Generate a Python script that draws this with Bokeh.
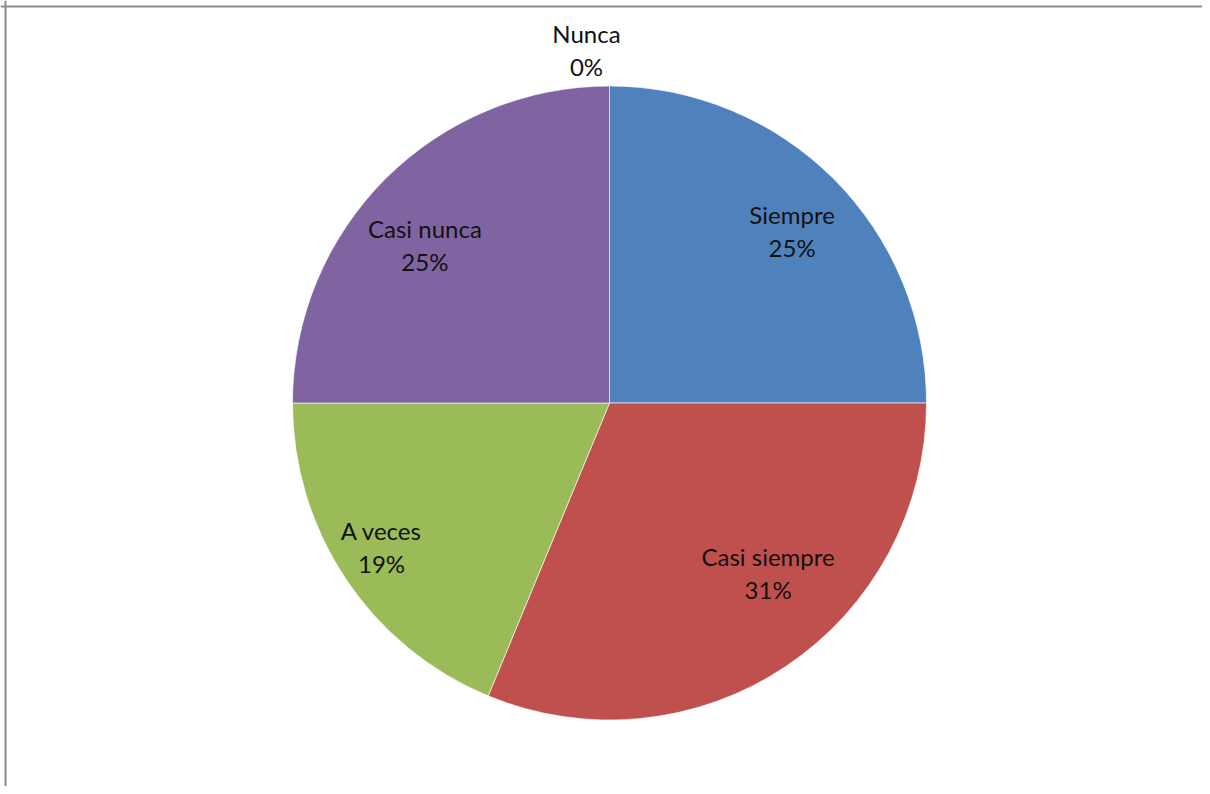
import math
from bokeh.plotting import figure
from bokeh.models import Range1d, Span, ColumnDataSource
from bokeh.core.properties import value
from bokeh.embed import file_html
from bokeh.resources import INLINE

categories = ["Siempre", "Casi siempre", "A veces", "Casi nunca", "Nunca"]
counts = [4, 5, 3, 4, 0]
colors = ["#4F81BD", "#C0504D", "#9BBB59", "#8064A2", "#F79646"]

# label placement nudges in screen pixels (style only)
label_nudge_x = [10, 23, -25, -12, -23]
label_nudge_y = [-1, 33, -8, -15, 4]

W, H = 1202, 786
p = figure(width=W, height=H, output_backend="svg", toolbar_location=None,
           x_range=Range1d(0, W), y_range=Range1d(0, H), min_border=0)
p.axis.visible = False
p.grid.visible = False
p.outline_line_color = None
p.background_fill_color = "white"
p.border_fill_color = "white"

# frame lines (left and top only, as in reference)
p.add_layout(Span(location=5, dimension="height", line_color="#8c8c8c", line_width=2))
p.add_layout(Span(location=H - 6, dimension="width", line_color="#8c8c8c", line_width=2))

cx, cy, R = 609, H - 402.5, 317
total = sum(counts)
starts, ends, mids, pcts = [], [], [], []
acc = 0
for c in counts:
    s = math.pi / 2 - 2 * math.pi * acc / total
    acc += c
    e = math.pi / 2 - 2 * math.pi * acc / total
    starts.append(s); ends.append(e); mids.append((s + e) / 2)
    pcts.append(f"{round(100 * c / total)}%")

idx = [i for i, c in enumerate(counts) if c > 0]
src = ColumnDataSource(dict(
    x=[cx] * len(idx), y=[cy] * len(idx),
    s=[starts[i] for i in idx], e=[ends[i] for i in idx],
    col=[colors[i] for i in idx]))
p.wedge(x="x", y="y", radius=R, radius_units="screen", start_angle="s", end_angle="e",
        direction="clock", fill_color="col", line_color="white", line_alpha=0.6,
        line_width=1, source=src)

lx, ly = [], []
for i, c in enumerate(counts):
    r = 0.77 * R if c > 0 else 1.1 * R
    lx.append(cx + r * math.cos(mids[i]) + label_nudge_x[i])
    ly.append(cy + r * math.sin(mids[i]) + label_nudge_y[i])
lsrc = ColumnDataSource(dict(x=lx, y=ly, name=categories, pct=pcts))
font = value("Lato")
p.text(x="x", y="y", text="name", source=lsrc, text_align="center",
       text_baseline="middle", y_offset=-16.5, text_font=font,
       text_font_size="24px", text_color="#111111")
p.text(x="x", y="y", text="pct", source=lsrc, text_align="center",
       text_baseline="middle", y_offset=16.5, text_font=font,
       text_font_size="24px", text_color="#111111")

open("out.html", "w").write(file_html(p, INLINE))
